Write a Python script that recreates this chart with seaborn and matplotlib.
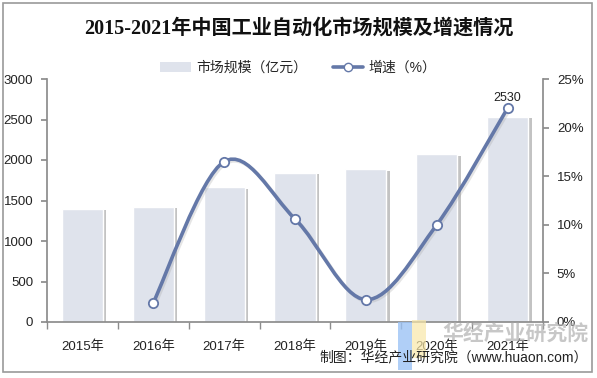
import numpy as np
import pandas as pd
import matplotlib
matplotlib.use("Agg")
import matplotlib.pyplot as plt
import matplotlib.patheffects as pe
from matplotlib.path import Path
from matplotlib.patches import PathPatch, Rectangle
from matplotlib.lines import Line2D
import seaborn as sns

years = ["2015年", "2016年", "2017年", "2018年", "2019年", "2020年", "2021年"]
market_size = [1400, 1425, 1665, 1840, 1885, 2070, 2530]
growth_years = ["2016年", "2017年", "2018年", "2019年", "2020年", "2021年"]
growth_rate = [2.0, 16.5, 10.6, 2.3, 10.0, 22.0]

sns.set_theme(style="white")
plt.rcParams['font.family'] = ['Liberation Sans', 'Noto Sans CJK SC']

bar_color = "#dfe3ec"
line_color = "#6478a8"
axis_color = "#8c8c8c"
text_color = "#222222"

fig = plt.figure(figsize=(5.97, 3.78), dpi=100)
fig.patches.append(Rectangle((3 / 597, 1 - 372 / 378), 589 / 597, 369 / 378,
                             transform=fig.transFigure, fill=False,
                             edgecolor="#9a9a9a", linewidth=1.2))
ax = fig.add_axes([47 / 597, 1 - 322 / 378, (543 - 47) / 597, (322 - 79) / 378])

df = pd.DataFrame({"year": years, "size": market_size})
sns.barplot(data=df, x="year", y="size", color=bar_color, width=0.58,
            saturation=1, ax=ax)
for p in ax.patches:
    p.set_path_effects([pe.SimplePatchShadow(offset=(2.5, -1), shadow_rgbFace="#888888", alpha=0.5),
                        pe.Normal()])

ax.set_xlim(-0.5, len(years) - 0.5)
ax.set_ylim(0, 3000)
ax.set_yticks(range(0, 3001, 500))
ax.set_xlabel("")
ax.set_ylabel("")

ax2 = ax.twinx()
ax2.set_ylim(0, 25)
ax2.set_yticks(range(0, 26, 5))
ax2.set_yticklabels([f"{v}%" for v in range(0, 26, 5)])

# smoothed line as Excel draws it: bezier segments through the data points
gx = np.array([years.index(y) for y in growth_years], dtype=float)
gy = np.array(growth_rate)
verts = [(gx[0], gy[0])]
codes = [Path.MOVETO]
t = 1 / 6
for i in range(len(gx) - 1):
    p0 = np.array([gx[max(i - 1, 0)], gy[max(i - 1, 0)]])
    p1 = np.array([gx[i], gy[i]])
    p2 = np.array([gx[i + 1], gy[i + 1]])
    p3 = np.array([gx[min(i + 2, len(gx) - 1)], gy[min(i + 2, len(gx) - 1)]])
    c1 = p1 + (p2 - p0) * t
    c2 = p2 - (p3 - p1) * t
    verts += [tuple(c1), tuple(c2), tuple(p2)]
    codes += [Path.CURVE4] * 3
curve = PathPatch(Path(verts, codes), transform=ax2.transData, fill=False,
                  edgecolor=line_color, linewidth=2.6, zorder=3,
                  path_effects=[pe.SimpleLineShadow(offset=(1.2, -1.2), shadow_color="#999999", alpha=0.25),
                                pe.Normal()])
ax2.add_patch(curve)
sns.scatterplot(x=gx, y=gy, ax=ax2, s=45, color="white", edgecolor=line_color,
                linewidth=1.3, zorder=4, legend=False)
ax2.annotate(str(market_size[-1]), (gx[-1], gy[-1]), xytext=(0, 3),
             textcoords="offset points", ha="center", va="bottom",
             fontsize=9, color=text_color)

for a in (ax, ax2):
    for s in ("top", "bottom", "left", "right"):
        a.spines[s].set_visible(False)
ax.spines["left"].set_visible(True)
ax.spines["bottom"].set_visible(True)
ax2.spines["right"].set_visible(True)
for s in ("left", "bottom"):
    ax.spines[s].set_color(axis_color)
ax2.spines["right"].set_color(axis_color)

ax.tick_params(axis="y", which="both", left=True, length=4, color=axis_color,
               labelsize=9.5, labelcolor=text_color, pad=6)
ax2.tick_params(axis="y", right=True, length=4, color=axis_color,
                labelsize=9.5, labelcolor=text_color, pad=6)
ax.set_xticks(np.arange(len(years)))
ax.set_xticklabels(years)
ax.set_xticks(np.arange(-0.5, len(years), 1), minor=True)
ax.tick_params(axis="x", which="major", bottom=False, labelsize=9.5,
               labelcolor=text_color, pad=7)
ax.tick_params(axis="x", which="minor", bottom=True, length=5, color=axis_color)
ax.grid(False)
ax2.grid(False)

fig.text(0.5, 1 - 29 / 378, "2015-2021年中国工业自动化市场规模及增速情况",
         ha="center", va="center", fontsize=14.5, fontweight="bold",
         family=['Liberation Serif', 'Noto Sans CJK SC'], color="#111111")

handles = [Rectangle((0, 0), 1, 1, facecolor=bar_color, edgecolor="none"),
           Line2D([0], [0], color=line_color, linewidth=2.6, marker="o",
                  markerfacecolor="white", markeredgecolor=line_color, markersize=6)]
fig.legend(handles, ["市场规模（亿元）", "增速（%）"], loc="center",
           bbox_to_anchor=(0.5, 1 - 68 / 378), ncol=2, frameon=False,
           fontsize=10, handlelength=2.2, columnspacing=1.8, handletextpad=0.4)

# watermark logo
fig.patches.append(Rectangle((398 / 597, 1 - 370 / 378), 14 / 597, 48 / 378,
                             transform=fig.transFigure, facecolor="#9cc3f5",
                             edgecolor="none", alpha=0.8))
fig.patches.append(Rectangle((412 / 597, 1 - 358 / 378), 14 / 597, 38 / 378,
                             transform=fig.transFigure, facecolor="#f8e7a8",
                             edgecolor="none", alpha=0.7))
fig.text(0.985, 1 - 333 / 378, "华经产业研究院", ha="right", va="center",
         fontsize=15, fontweight="bold", color="#b0b0b0", alpha=0.7)
fig.text(0.985, 1 - 357 / 378, "制图：华经产业研究院（www.huaon.com）",
         ha="right", va="center", fontsize=10, color=text_color)

fig.savefig("out.png", dpi=100)
